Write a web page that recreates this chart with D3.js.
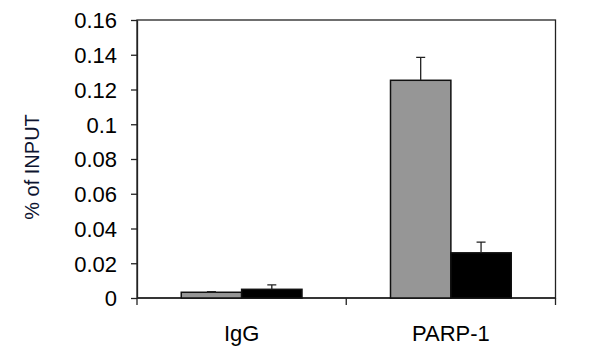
<!DOCTYPE html>
<html>
<head>
<meta charset="utf-8">
<script src="https://cdn.jsdelivr.net/npm/d3@7"></script>
<style>
  body { margin: 0; background: #fff; }
  text { font-family: "Liberation Sans", Arial, sans-serif; fill: #000; }
</style>
</head>
<body>
<div id="chart-area"></div>
<script>
// data
let categories = ["IgG", "PARP-1"];
let series = ["grey", "black"];
let values = [[0.0033, 0.005], [0.1253, 0.026]];
let errors = [[0.0003, 0.0026], [0.0132, 0.0062]];
let yTicks = [0, 0.02, 0.04, 0.06, 0.08, 0.1, 0.12, 0.14, 0.16];

let width = 600, height = 358;
let margin = {top: 20, right: 44.5, bottom: 60, left: 137};
let innerW = width - margin.left - margin.right,
    innerH = height - margin.top - margin.bottom;

let svg = d3.select("#chart-area").append("svg")
    .attr("width", width)
    .attr("height", height);

let g = svg.append("g")
    .attr("transform", "translate(" + margin.left + "," + margin.top + ")");

let x0 = d3.scaleBand().domain(categories).range([0, innerW]).padding(0);
let x1 = d3.scaleBand().domain(series).range([0, x0.bandwidth()])
    .paddingInner(0).paddingOuter(0.733);
let y = d3.scaleLinear().domain([0, 0.16]).range([innerH, 0]);
let fill = d3.scaleOrdinal().domain(series).range(["#969696", "#000"]);

// frame
g.append("rect")
    .attr("width", innerW).attr("height", innerH)
    .attr("fill", "none").attr("stroke", "#222").attr("stroke-width", 1.3);

// y axis
let yaxis = d3.axisLeft(y).tickValues(yTicks).tickSize(6).tickSizeOuter(0).tickPadding(14)
    .tickFormat(d => d === 0 ? "0" : String(+d.toFixed(2)));
let ya = g.append("g").call(yaxis);
ya.selectAll("text").style("font-size", "22px").attr("dy", "0.36em");
ya.selectAll("line, path").attr("stroke", "#222").attr("stroke-width", 1.3);

// x axis: ticks at category edges
let xa = g.append("g").attr("transform", "translate(0," + innerH + ")");
xa.append("line").attr("x1", 0).attr("x2", innerW)
    .attr("stroke", "#222").attr("stroke-width", 1.3);
let edges = [0].concat(categories.map(c => x0(c) + x0.bandwidth()));
xa.selectAll(".edge").data(edges).enter().append("line")
    .attr("x1", d => d).attr("x2", d => d)
    .attr("y1", 0).attr("y2", 7)
    .attr("stroke", "#222").attr("stroke-width", 1.3);
xa.selectAll(".cat").data(categories).enter().append("text")
    .attr("x", d => x0(d) + x0.bandwidth() / 2)
    .attr("y", 43)
    .attr("text-anchor", "middle")
    .style("font-size", "22px")
    .text(d => d);

// bars
let groups = g.selectAll(".grp").data(categories).enter().append("g")
    .attr("transform", d => "translate(" + x0(d) + ",0)");

groups.selectAll("rect").data((d, i) => series.map((s, j) => ({s: s, v: values[i][j], e: errors[i][j]})))
    .enter().append("rect")
    .attr("x", d => x1(d.s))
    .attr("y", d => y(d.v))
    .attr("width", x1.bandwidth())
    .attr("height", d => innerH - y(d.v))
    .attr("fill", d => fill(d.s))
    .attr("stroke", "#111")
    .attr("stroke-width", 1.5);

// error bars (upper only)
groups.selectAll(".err").data((d, i) => series.map((s, j) => ({s: s, v: values[i][j], e: errors[i][j]})))
    .enter().append("path")
    .attr("d", d => {
        let cx = x1(d.s) + x1.bandwidth() / 2;
        return "M" + cx + "," + y(d.v) + "V" + y(d.v + d.e) +
            "M" + (cx - 4.5) + "," + y(d.v + d.e) + "H" + (cx + 4.5);
    })
    .attr("fill", "none")
    .attr("stroke", "#222")
    .attr("stroke-width", 1.3);

// y label
svg.append("text")
    .attr("transform", "translate(39,167) rotate(-90)")
    .attr("text-anchor", "middle")
    .style("font-size", "20px")
    .style("fill", "#0d1430")
    .text("% of INPUT");
</script>
</body>
</html>
